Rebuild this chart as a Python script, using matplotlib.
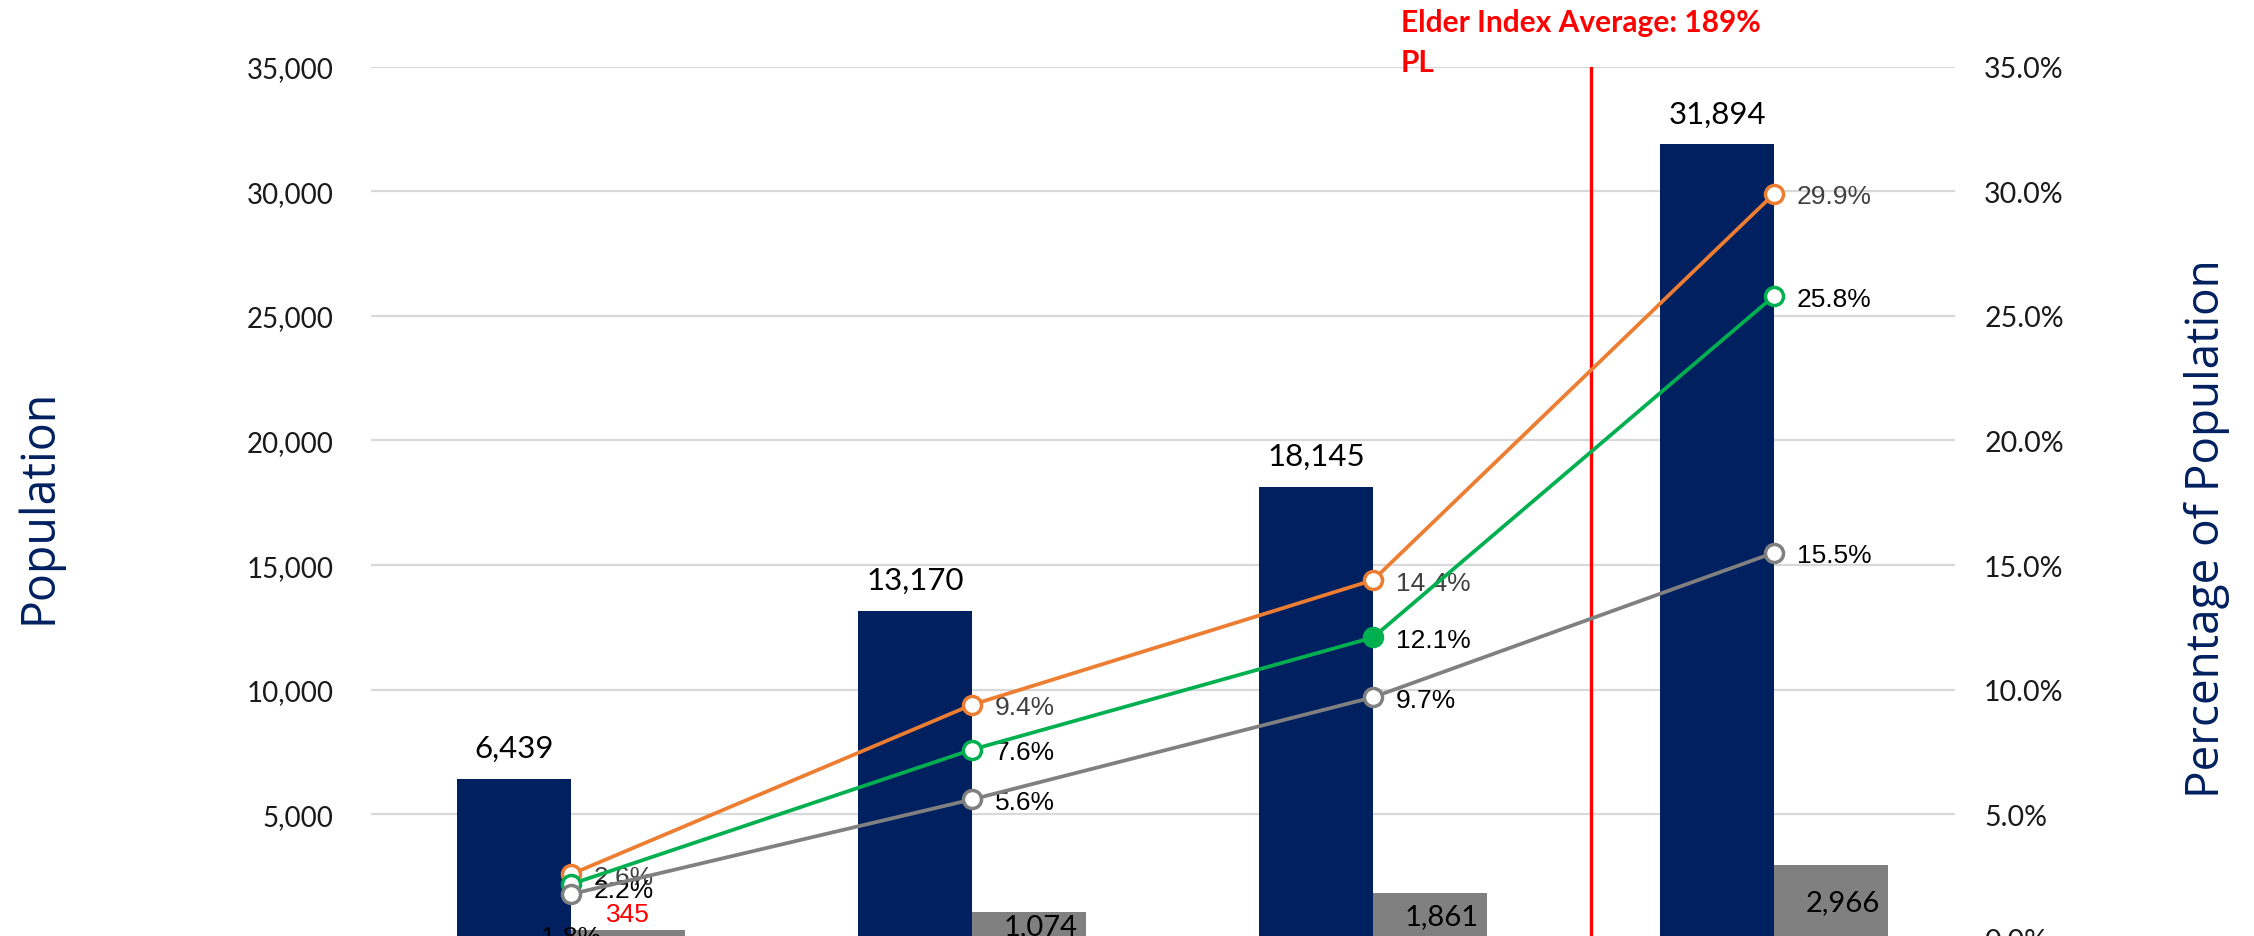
import numpy as np
import matplotlib.pyplot as plt
from matplotlib.ticker import FuncFormatter, FixedLocator

# Population counts and shares for each group
groups = ["Group 1", "Group 2", "Group 3", "Group 4"]
total_pop = [6439, 13170, 18145, 31894]
below_pop = [345, 1074, 1861, 2966]
orange_pct = [2.6, 9.4, 14.4, 29.9]
green_pct = [2.2, 7.6, 12.1, 25.8]
gray_pct = [1.8, 5.6, 9.7, 15.5]
green_filled = [False, False, True, False]

elder_x = 2.544
elder_lines = ["Elder Index Average: 189%", "PL"]

NAVY = "#002060"
GREY_BAR = "#808080"
ORANGE = "#ED7D31"
GREEN = "#00B050"
GRAY_LINE = "#808080"
RED = "#FF0000"

humanist = ["Lato", "DejaVu Sans"]
plain = ["Liberation Sans", "DejaVu Sans"]
title_font = ["Open Sans", "DejaVu Sans"]

fig = plt.figure(figsize=(22.54, 9.37), dpi=100)
W, H = 2254, 937
left, right, top, zero = 371, 1955, 67.6, 940
ax = fig.add_axes([left / W, (H - zero) / H, (right - left) / W, (zero - top) / H])
ax2 = ax.twinx()

x = np.arange(len(groups))
bw = 0.284

ax.bar(x - bw / 2, total_pop, bw, color=NAVY, zorder=2)
ax.bar(x + bw / 2, below_pop, bw, color=GREY_BAR, zorder=2)

ax.set_xlim(-0.499, 3.451)
ax.set_ylim(0, 35000)
ax.yaxis.set_major_locator(FixedLocator(range(5000, 35001, 5000)))
ax.yaxis.set_major_formatter(FuncFormatter(lambda v, p: f"{int(v):,}"))
ax.grid(axis="y", color="#d9d9d9", linewidth=1.6, zorder=0)
ax.set_axisbelow(True)
ax.set_xticks([])
for s in ax.spines.values():
    s.set_visible(False)
ax.tick_params(axis="y", length=0, pad=27, labelsize=20, labelcolor="#1a1a1a")
for lbl in ax.get_yticklabels():
    lbl.set_family(humanist)

# value labels on bars
for i, v in enumerate(total_pop):
    ax.annotate(f"{v:,}", (x[i] - bw / 2, v), xytext=(0, 22), textcoords="offset points",
                ha="center", va="center", fontsize=22.5, family=humanist, color="#000000")
for i, v in enumerate(below_pop):
    if i == 0:
        ax.annotate(f"{v}", (x[i] + bw / 2, v), xytext=(0, 12), textcoords="offset points",
                    ha="center", va="center", fontsize=19, family=plain, color=RED)
    else:
        ax.text(x[i] + bw / 2 + 0.03, v / 2, f"{v:,}", ha="center", va="center",
                fontsize=21, family=humanist, color="#000000")

# elder index reference line
ax.plot([elder_x, elder_x], [0, 35000], color=RED, linewidth=2.4, zorder=3)
fig.text(1401 / W, 1 - 23 / H, elder_lines[0], ha="left", va="center",
         fontsize=21.5, fontweight="bold", family=humanist, color=RED)
fig.text(1401 / W, 1 - 63 / H, elder_lines[1], ha="left", va="center",
         fontsize=21.5, fontweight="bold", family=humanist, color=RED)

# percentage lines
ax2.set_ylim(0, 35)
ax2.set_yticks(np.arange(0, 35.1, 5))
ax2.yaxis.set_major_formatter(FuncFormatter(lambda v, p: f"{v:.1f}%"))
ax2.tick_params(axis="y", length=0, pad=21, labelsize=20.5, labelcolor="#1a1a1a")
for lbl in ax2.get_yticklabels():
    lbl.set_family(humanist)
for s in ax2.spines.values():
    s.set_visible(False)

series = [(orange_pct, ORANGE, "#404040"), (green_pct, GREEN, "#000000"),
          (gray_pct, GRAY_LINE, "#000000")]
for vals, col, tcol in series:
    ax2.plot(x, vals, color=col, linewidth=2.7, marker="o", markersize=13,
             markerfacecolor="white", markeredgecolor=col, markeredgewidth=2.5, zorder=4)
    for i, v in enumerate(vals):
        dx, dy = 16.5, -2
        if vals is green_pct and i == 0:
            dy = -4
        if vals is gray_pct and i == 0:
            dx, dy = 0, -31
            ha = "center"
        else:
            ha = "left"
        ax2.annotate(f"{v:.1f}%", (x[i], v), xytext=(dx, dy), textcoords="offset points",
                     ha=ha, va="center", fontsize=19, family=plain, color=tcol)

for i, filled in enumerate(green_filled):
    if filled:
        ax2.plot(x[i], green_pct[i], marker="o", markersize=13, color=GREEN,
                 markeredgecolor=GREEN, zorder=5)

fig.text(39 / W, 1 - 506 / H, "Population", rotation=90, ha="center", va="center",
         fontsize=33.5, family=title_font, color=NAVY)
fig.text(2207 / W, 1 - 529 / H, "Percentage of Population", rotation=90, ha="center",
         va="center", fontsize=33, family=title_font, color=NAVY)

fig.savefig("out.png", dpi=100)
